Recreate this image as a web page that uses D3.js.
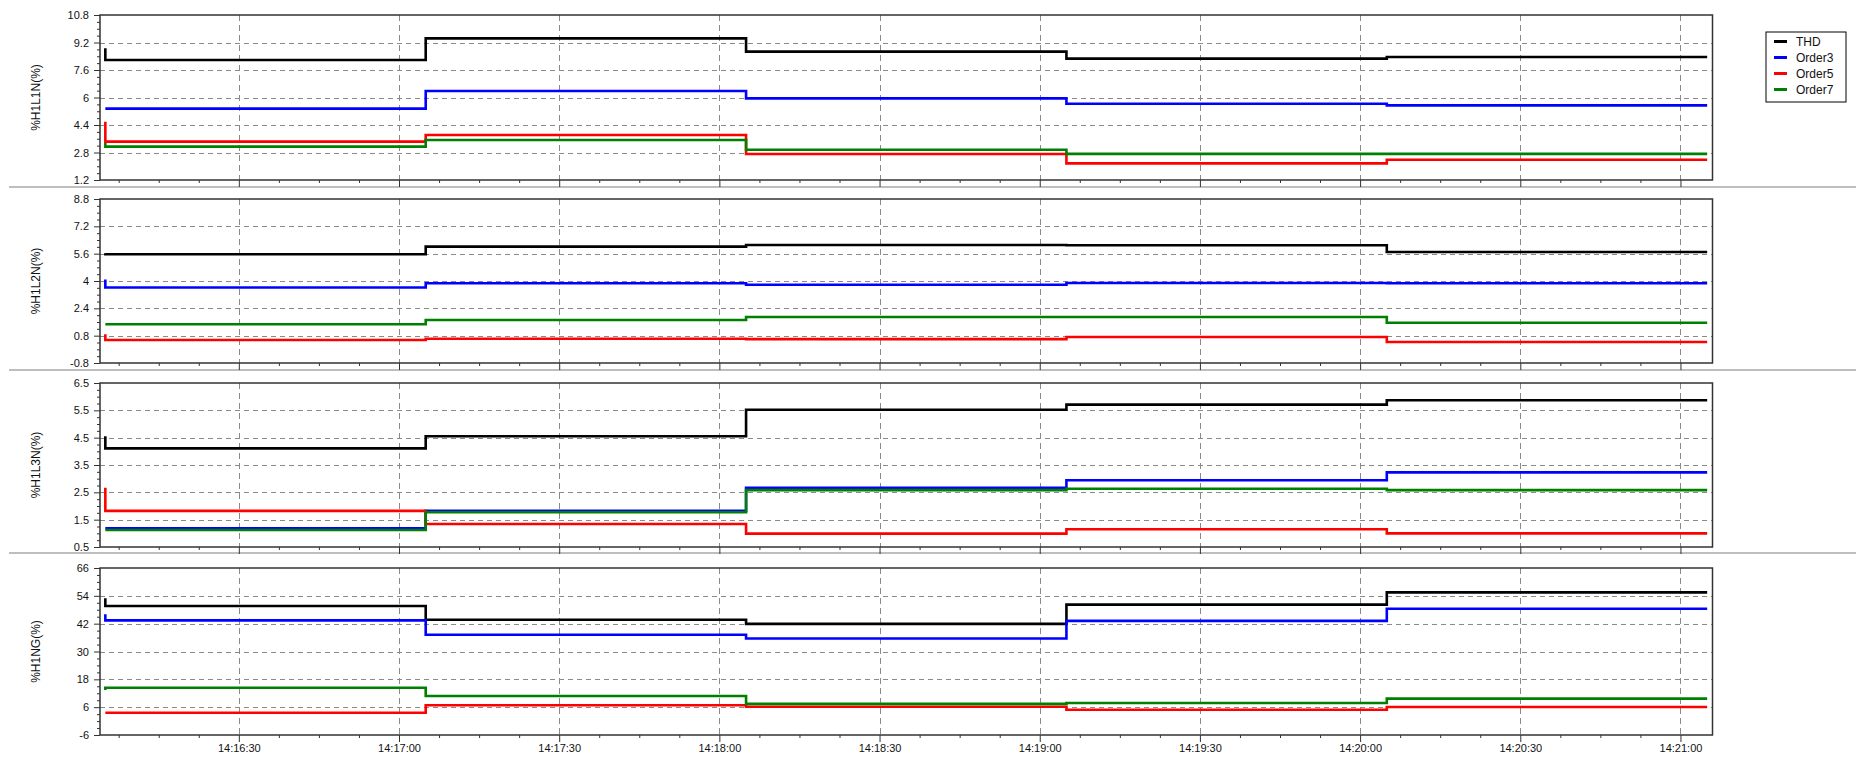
<!DOCTYPE html>
<html>
<head>
<meta charset="utf-8">
<script src="https://cdn.jsdelivr.net/npm/d3@7"></script>
<style>
    body { margin: 0; background: #fff; }
    svg { display: block; font-family: "Liberation Sans", Arial, sans-serif; }
</style>
</head>
<body>
<svg id="chart" width="1856" height="757"></svg>
<script>
// time axis
const xDomain = ["14:16:04", "14:21:06"];
const xTickLabels = ["14:16:30", "14:17:00", "14:17:30", "14:18:00", "14:18:30",
    "14:19:00", "14:19:30", "14:20:00", "14:20:30", "14:21:00"];
// one sample per minute, first sample repeated for the start spike
const sampleTimes = ["14:16:05", "14:16:05", "14:17:05", "14:18:05", "14:19:05", "14:20:05", "14:21:05"];

const seriesNames = ["THD", "Order3", "Order5", "Order7"];
const panelTitles = ["%H1L1N(%)", "%H1L2N(%)", "%H1L3N(%)", "%H1NG(%)"];

// y ticks of every panel
const h1l1nTicks = [1.2, 2.8, 4.4, 6, 7.6, 9.2, 10.8];
const h1l2nTicks = [-0.8, 0.8, 2.4, 4, 5.6, 7.2, 8.8];
const h1l3nTicks = [0.5, 1.5, 2.5, 3.5, 4.5, 5.5, 6.5];
const h1ngTicks = [-6, 6, 18, 30, 42, 54, 66];

// values, rows in the order of seriesNames
const h1l1nValues = [
    [8.86, 8.18, 9.44, 8.67, 8.26, 8.36, 8.36],
    [5.35, 5.35, 6.38, 5.95, 5.64, 5.54, 5.54],
    [4.59, 3.43, 3.82, 2.71, 2.17, 2.38, 2.38],
    [3.35, 3.14, 3.53, 2.96, 2.72, 2.72, 2.72]
];
const h1l2nValues = [
    [5.62, 5.57, 6.01, 6.11, 6.09, 5.70, 5.70],
    [4.09, 3.62, 3.87, 3.78, 3.88, 3.87, 3.87],
    [0.88, 0.55, 0.62, 0.60, 0.72, 0.43, 0.43],
    [1.47, 1.47, 1.72, 1.89, 1.89, 1.56, 1.56]
];
const h1l3nValues = [
    [4.55, 4.11, 4.55, 5.52, 5.71, 5.87, 5.87],
    [1.18, 1.18, 1.82, 2.67, 2.94, 3.23, 3.23],
    [2.67, 1.82, 1.34, 0.99, 1.15, 1.00, 1.00],
    [1.12, 1.12, 1.77, 2.58, 2.63, 2.58, 2.58]
];
const h1ngValues = [
    [53.0, 49.6, 43.7, 41.9, 50.2, 55.5, 55.5],
    [46.1, 43.4, 37.2, 35.6, 43.2, 48.4, 48.4],
    [3.6, 3.6, 6.8, 6.2, 4.9, 6.1, 6.1],
    [13.4, 14.4, 10.8, 7.4, 7.8, 9.7, 9.7]
];

const seriesColors = ["#000000", "#0000ff", "#ff0000", "#008000"];

let panels = [
    { title: panelTitles[0], ticks: h1l1nTicks, values: h1l1nValues, top: 15, bottom: 180 },
    { title: panelTitles[1], ticks: h1l2nTicks, values: h1l2nValues, top: 199, bottom: 363 },
    { title: panelTitles[2], ticks: h1l3nTicks, values: h1l3nValues, top: 383, bottom: 547 },
    { title: panelTitles[3], ticks: h1ngTicks, values: h1ngValues, top: 568, bottom: 735 }
];
const separators = [187, 370, 553];

const PLOT_LEFT = 100, PLOT_RIGHT = 1712.5;
const GRID_COLOR = "#8a8a8a", FRAME_COLOR = "#333";

let parseTime = d3.timeParse("%H:%M:%S");
let svg = d3.select("#chart");

let xScale = d3.scaleTime()
    .domain(xDomain.map(parseTime))
    .range([PLOT_LEFT, PLOT_RIGHT]);

let xMajor = xTickLabels.map(parseTime);
// minor ticks every 7.5 s
let xMinor = [];
let t0 = d3.timeSecond.offset(xMajor[0], -30);
for (let i = 0; i < 60; i++) {
    let t = d3.timeMillisecond.offset(t0, i * 7500);
    if (t >= xScale.domain()[0] && t <= xScale.domain()[1] && (i % 4) !== 0) xMinor.push(t);
}

let times = sampleTimes.map(parseTime);

// panel separators
svg.selectAll(".sep").data(separators).enter().append("line")
    .attr("x1", 9).attr("x2", 1856)
    .attr("y1", d => d).attr("y2", d => d)
    .attr("stroke", "#a8a8a8").attr("stroke-width", 1.5);

panels.forEach(function (p, pi) {
    let g = svg.append("g");
    let lo = p.ticks[0], hi = p.ticks[p.ticks.length - 1];
    let yScale = d3.scaleLinear().domain([lo, hi]).range([p.bottom, p.top]);

    // minor y ticks: 4 subdivisions between labels
    let step = (p.ticks[1] - p.ticks[0]) / 4;
    let yMinor = d3.range(0, (hi - lo) / step + 0.5).map(i => +(lo + i * step).toFixed(3))
        .filter((d, i) => i % 4 !== 0);

    // horizontal grid
    g.selectAll(".hgrid").data(p.ticks.slice(1, -1)).enter().append("line")
        .attr("x1", PLOT_LEFT).attr("x2", PLOT_RIGHT)
        .attr("y1", d => Math.round(yScale(d)) + 0.5).attr("y2", d => Math.round(yScale(d)) + 0.5)
        .attr("stroke", GRID_COLOR).attr("stroke-dasharray", "5,4");
    // vertical grid
    g.selectAll(".vgrid").data(xMajor).enter().append("line")
        .attr("x1", d => Math.round(xScale(d)) + 0.5).attr("x2", d => Math.round(xScale(d)) + 0.5)
        .attr("y1", p.top).attr("y2", p.bottom)
        .attr("stroke", GRID_COLOR).attr("stroke-dasharray", "6,4");

    // y axis
    let yAxis = g.append("g").attr("transform", "translate(" + PLOT_LEFT + ",0)")
        .call(d3.axisLeft(yScale).tickValues(p.ticks).tickSize(6).tickPadding(5)
            .tickFormat(d => String(d)));
    let yAxisMinor = g.append("g").attr("transform", "translate(" + PLOT_LEFT + ",0)")
        .call(d3.axisLeft(yScale).tickValues(yMinor).tickSize(3).tickFormat(""));

    // x axis
    let xAxis = g.append("g").attr("transform", "translate(0," + p.bottom + ")")
        .call(d3.axisBottom(xScale).tickValues(xMajor).tickSize(7).tickPadding(2)
            .tickFormat(pi === panels.length - 1 ? d3.timeFormat("%H:%M:%S") : ""));
    let xAxisMinor = g.append("g").attr("transform", "translate(0," + p.bottom + ")")
        .call(d3.axisBottom(xScale).tickValues(xMinor).tickSize(3).tickFormat(""));

    [yAxis, yAxisMinor, xAxis, xAxisMinor].forEach(function (a) {
        a.select(".domain").remove();
        a.selectAll("line").attr("stroke", FRAME_COLOR);
        a.selectAll("text").attr("fill", "#111").style("font-size", "11px")
            .style("font-family", "'Liberation Sans', Arial, sans-serif");
    });

    // series lines
    let line = d3.line()
        .x(d => xScale(d.t))
        .y(d => yScale(d.v))
        .curve(d3.curveStepAfter);
    p.values.forEach(function (vals, si) {
        let pts = vals.map((v, i) => ({ t: times[i], v: v }));
        g.append("path").datum(pts)
            .attr("d", line)
            .attr("fill", "none")
            .attr("stroke", seriesColors[si])
            .attr("stroke-width", 2.6);
    });

    // frame
    g.append("rect")
        .attr("x", PLOT_LEFT).attr("y", p.top)
        .attr("width", PLOT_RIGHT - PLOT_LEFT).attr("height", p.bottom - p.top)
        .attr("fill", "none").attr("stroke", FRAME_COLOR).attr("stroke-width", 1.5);

    // y title
    g.append("text")
        .attr("transform", "translate(40," + (p.top + p.bottom) / 2 + ") rotate(-90)")
        .attr("text-anchor", "middle")
        .attr("fill", "#111")
        .style("font-size", "12px")
        .text(p.title);
});

// legend
let legend = svg.append("g").attr("transform", "translate(1766,32)");
legend.append("rect")
    .attr("width", 80).attr("height", 70)
    .attr("fill", "#fff").attr("stroke", "#000").attr("stroke-width", 1);
seriesNames.forEach(function (name, i) {
    let y = 9.5 + i * 16;
    legend.append("line")
        .attr("x1", 8).attr("x2", 21).attr("y1", y).attr("y2", y)
        .attr("stroke", seriesColors[i]).attr("stroke-width", 3);
    legend.append("text")
        .attr("x", 30).attr("y", y + 4)
        .attr("fill", "#111")
        .style("font-size", "12px")
        .text(name);
});
</script>
</body>
</html>
